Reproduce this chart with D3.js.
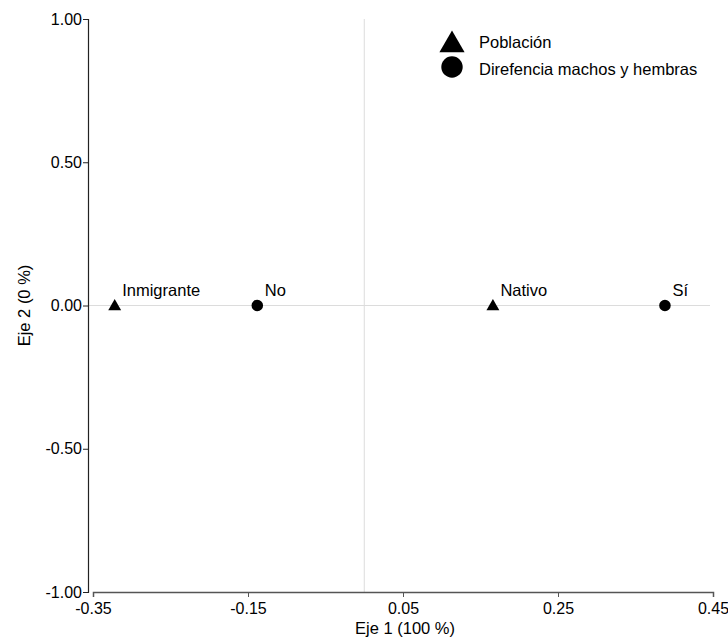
<!DOCTYPE html>
<html>
<head>
<meta charset="utf-8">
<script src="https://cdn.jsdelivr.net/npm/d3@7"></script>
<style>
  body { margin: 0; background: #fff; }
  text { font-family: "Liberation Sans", Arial, sans-serif; }
</style>
</head>
<body>
<div id="chart"></div>
<script>
// data
const rowNames = ['Inmigrante', 'Nativo'];
const rowX = [-0.322, 0.166];
const rowY = [0, 0];
const colNames = ['No', 'Sí'];
const colX = [-0.138, 0.388];
const colY = [0, 0];
const xTicks = [-0.35, -0.15, 0.05, 0.25, 0.45];
const yTicks = [-1, -0.5, 0, 0.5, 1];
const legendNames = ['Población', 'Direfencia machos y hembras'];

const width = 728, height = 644;
const svg = d3.select('#chart').append('svg')
    .attr('width', width)
    .attr('height', height);

const x = d3.scaleLinear().domain([-0.35, 0.45]).range([93, 713]);
const y = d3.scaleLinear().domain([-1, 1]).range([592, 19]);
const fmt = d => d.toFixed(2);  // plain hyphen minus like the original

// reference lines at zero
svg.append('line')
    .attr('x1', x(0)).attr('x2', x(0))
    .attr('y1', y(1)).attr('y2', y(-1))
    .attr('stroke', '#dcdcdc').attr('stroke-width', 1);
svg.append('line')
    .attr('x1', 88).attr('x2', 710)
    .attr('y1', y(0)).attr('y2', y(0))
    .attr('stroke', '#dcdcdc').attr('stroke-width', 1);

// axes
const xAxis = svg.append('g')
    .attr('transform', 'translate(0,' + 592 + ')')
    .call(d3.axisBottom(x).tickValues(xTicks).tickFormat(fmt).tickSizeOuter(0).tickSize(5));
xAxis.select('.domain').attr('stroke', '#555').attr('stroke-width', 1.5);
xAxis.selectAll('.tick line').attr('stroke', '#555');
xAxis.selectAll('text').attr('font-size', 16).attr('fill', '#000').attr('dy', '0.88em');

const yAxis = svg.append('g')
    .attr('transform', 'translate(88,0)')
    .call(d3.axisLeft(y).tickValues(yTicks).tickFormat(fmt).tickSizeOuter(0).tickSize(5));
yAxis.select('.domain').attr('stroke', '#222').attr('stroke-width', 1.2);
yAxis.selectAll('.tick line').attr('stroke', '#222');
yAxis.selectAll('text').attr('font-size', 16).attr('fill', '#000').attr('x', -6);

// axis titles
svg.append('text')
    .attr('x', 405).attr('y', 634)
    .attr('text-anchor', 'middle')
    .attr('font-size', 16.5)
    .text('Eje 1 (100 %)');
svg.append('text')
    .attr('transform', 'translate(30,' + y(0) + ') rotate(-90)')
    .attr('text-anchor', 'middle')
    .attr('font-size', 16.5)
    .text('Eje 2 (0 %)');

const tri = d3.symbol().type(d3.symbolTriangle);
const circ = d3.symbol().type(d3.symbolCircle);

// row points (triangles)
rowNames.forEach(function (name, i) {
    svg.append('path')
        .attr('d', tri.size(72)())
        .attr('transform', 'translate(' + x(rowX[i]) + ',' + (y(rowY[i]) + 1) + ')')
        .attr('fill', '#000');
    svg.append('text')
        .attr('x', x(rowX[i]) + 7.5).attr('y', y(rowY[i]) - 9.5)
        .attr('font-size', 16.5)
        .text(name);
});

// column points (circles)
colNames.forEach(function (name, i) {
    svg.append('path')
        .attr('d', circ.size(105)())
        .attr('transform', 'translate(' + x(colX[i]) + ',' + y(colY[i]) + ')')
        .attr('fill', '#000');
    svg.append('text')
        .attr('x', x(colX[i]) + 7.5).attr('y', y(colY[i]) - 9.5)
        .attr('font-size', 16.5)
        .text(name);
});

// legend
const legend = svg.append('g');
legend.append('path')
    .attr('d', tri.size(275)())
    .attr('transform', 'translate(452,45)')
    .attr('fill', '#000');
legend.append('path')
    .attr('d', circ.size(360)())
    .attr('transform', 'translate(452,67)')
    .attr('fill', '#000');
legendNames.forEach(function (name, i) {
    legend.append('text')
        .attr('x', 479).attr('y', 48 + i * 26.5)
        .attr('font-size', 16.5)
        .text(name);
});
</script>
</body>
</html>
